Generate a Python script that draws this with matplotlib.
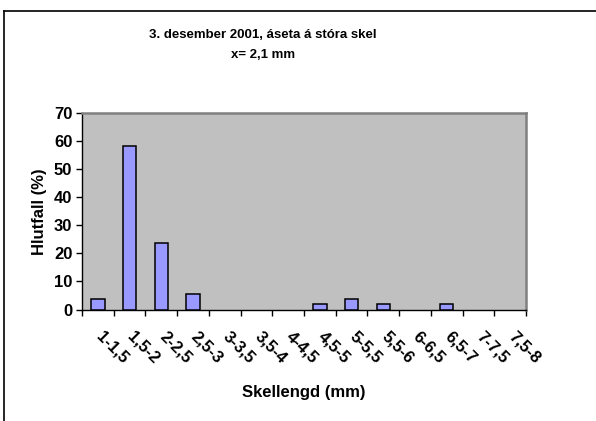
import numpy as np
import matplotlib
matplotlib.use("Agg")
import matplotlib.pyplot as plt
from matplotlib.lines import Line2D
from matplotlib.transforms import ScaledTranslation

# Dados
categorias = ["1-1,5", "1,5-2", "2-2,5", "2,5-3", "3-3,5", "3,5-4", "4-4,5",
              "4,5-5", "5-5,5", "5,5-6", "6-6,5", "6,5-7", "7-7,5", "7,5-8"]
hlutfall = [3.6, 58.2, 23.6, 5.5, 0, 0, 0, 1.8, 3.6, 1.8, 0, 1.8, 0, 0]

titulo = "3. desember 2001, áseta á stóra skel\nx= 2,1 mm"

plt.rcParams["font.family"] = ["Liberation Sans", "DejaVu Sans"]
plt.rcParams["font.weight"] = "bold"

W, H = 596, 421
fig = plt.figure(figsize=(W / 100, H / 100), dpi=100)
fig.patch.set_facecolor("white")

# Moldura do gráfico (só esquerda e topo visíveis)
fig.add_artist(Line2D([3.5 / W, 3.5 / W], [0, 1 - 11 / H], transform=fig.transFigure,
                      color="black", lw=1.2))
fig.add_artist(Line2D([3.5 / W, 1], [1 - 11 / H, 1 - 11 / H], transform=fig.transFigure,
                      color="black", lw=1.2))

ax = fig.add_axes([82 / W, 1 - 309.5 / H, (526 - 82) / W, (309.5 - 113) / H])
ax.set_facecolor("#C0C0C0")

x = np.arange(len(categorias))
bordas = ["black" if v > 0 else "none" for v in hlutfall]
ax.bar(x, hlutfall, width=0.42, color="#9999FF", edgecolor=bordas, linewidth=1.1,
       zorder=3)

ax.set_xlim(-0.5, len(categorias) - 0.5)
ax.set_ylim(0, 70)
ax.set_yticks(np.arange(0, 71, 10))
ax.tick_params(axis="y", labelsize=12, length=4, width=1, pad=3)

ax.set_xticks(np.arange(-0.5, len(categorias), 1))
ax.set_xticklabels([])
ax.set_xticks(x, minor=True)
ax.set_xticklabels(categorias, minor=True, rotation=-45, ha="left", va="top",
                   rotation_mode="anchor", fontsize=12)
ax.tick_params(axis="x", which="major", length=4, width=1)
ax.tick_params(axis="x", which="minor", length=0, pad=14)
desvio = ScaledTranslation(6 / 100, 0, fig.dpi_scale_trans)
for rot in ax.get_xticklabels(minor=True):
    rot.set_transform(rot.get_transform() + desvio)

for lado in ["left", "bottom"]:
    ax.spines[lado].set_color("black")
    ax.spines[lado].set_linewidth(1)
for lado in ["top", "right"]:
    ax.spines[lado].set_color("#808080")
    ax.spines[lado].set_linewidth(1.8)

ax.set_ylabel("Hlutfall (%)", fontsize=12, fontweight="bold", labelpad=5)
fig.text(304 / W, 1 - 392 / H, "Skellengd (mm)", ha="center", va="center",
         fontsize=12, fontweight="bold")

fig.text(263 / W, 1 - 45 / H, titulo, ha="center", va="center", fontsize=9.5,
         fontweight="bold", linespacing=1.8)

fig.savefig("out.png", dpi=100)
